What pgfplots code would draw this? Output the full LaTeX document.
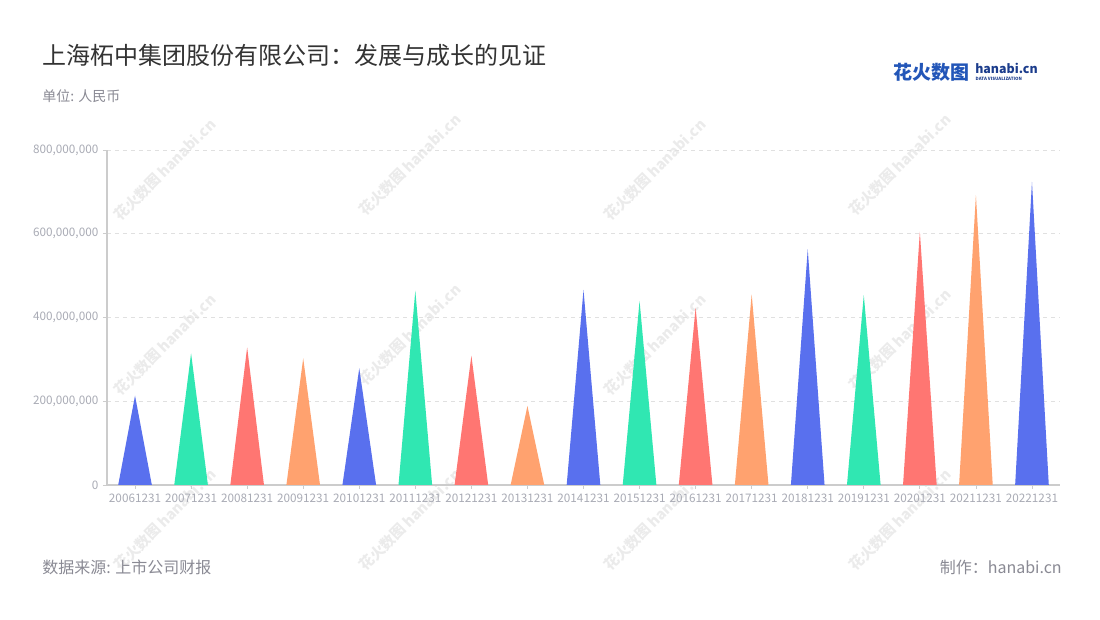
\documentclass[border=0pt]{standalone}
\usepackage{fontspec}
\setmainfont{Noto Sans CJK SC}
\usepackage{pgfplots}
\pgfplotsset{compat=1.18}

\definecolor{cblue}{HTML}{5970EE}
\definecolor{cgreen}{HTML}{30E7B2}
\definecolor{cred}{HTML}{FF7672}
\definecolor{corange}{HTML}{FFA26F}
\definecolor{titlegray}{HTML}{333333}
\definecolor{subgray}{HTML}{8A8A94}
\definecolor{ticklab}{HTML}{A9ABB5}
\definecolor{axgray}{HTML}{CCCCCC}
\definecolor{gridgray}{HTML}{E0E0E0}
\definecolor{logoblue}{HTML}{2356B8}
\definecolor{lognavy}{HTML}{1B3C8C}

% one triangle per year: left foot, tip (x, value), right foot
\newcommand{\tri}[5]{\addplot[fill=#5, draw=none] coordinates {(#1,0) (#2,#3) (#4,0)} -- cycle;}

\begin{document}
\begin{tikzpicture}
  % canvas 1100 x 620 px, 1px = 0.75pt
  \path[fill=white] (0,0) rectangle (825pt,465pt);

  % faint watermarks
  \foreach \wx/\wy in {165/170,410/165,655/170,900/165,165/345,410/335,655/345,900/340,410/520,655/520,900/520,165/520}{
    \node[rotate=45, opacity=0.08, text=black, font=\fontsize{11pt}{13pt}\selectfont\bfseries]
      at (\wx*0.75pt, 465pt-\wy*0.75pt) {花火数图 hanabi.cn};
  }

  \begin{axis}[
    at={(80.25pt,101.25pt)},
    anchor=south west,
    scale only axis,
    width=714.75pt,
    height=251.25pt,
    xmin=-0.5, xmax=16.5,
    ymin=0, ymax=800000000,
    axis lines=left,
    axis line style={-, axgray, line width=0.9pt},
    xtick={0,...,16},
    xticklabels={20061231,20071231,20081231,20091231,20101231,20111231,20121231,20131231,20141231,20151231,20161231,20171231,20181231,20191231,20201231,20211231,20221231},
    ytick={0,200000000,400000000,600000000,800000000},
    scaled y ticks=false,
    yticklabel style={/pgf/number format/fixed, /pgf/number format/1000 sep={,}, /pgf/number format/assume math mode=true},
    tick align=outside,
    major tick length=3pt,
    tick style={axgray, line width=0.6pt},
    ymajorgrids,
    grid style={dashed, gridgray, line width=0.6pt},
    ticklabel style={font=\fontsize{8.8pt}{10pt}\selectfont, text=ticklab},
    clip=false,
  ]
    \tri{-0.3}{0}{213300000}{0.3}{cblue}
    \tri{0.7}{1}{314400000}{1.3}{cgreen}
    \tri{1.7}{2}{328800000}{2.3}{cred}
    \tri{2.7}{3}{302500000}{3.3}{corange}
    \tri{3.7}{4}{278700000}{4.3}{cblue}
    \tri{4.7}{5}{464000000}{5.3}{cgreen}
    \tri{5.7}{6}{308800000}{6.3}{cred}
    \tri{6.7}{7}{188700000}{7.3}{corange}
    \tri{7.7}{8}{465700000}{8.3}{cblue}
    \tri{8.7}{9}{439400000}{9.3}{cgreen}
    \tri{9.7}{10}{423500000}{10.3}{cred}
    \tri{10.7}{11}{455400000}{11.3}{corange}
    \tri{11.7}{12}{562900000}{12.3}{cblue}
    \tri{12.7}{13}{453700000}{13.3}{cgreen}
    \tri{13.7}{14}{605000000}{14.3}{cred}
    \tri{14.7}{15}{692500000}{15.3}{corange}
    \tri{15.7}{16}{724000000}{16.3}{cblue}
  \end{axis}

  % titles
  \node[anchor=west, text=titlegray, font=\fontsize{18pt}{20pt}\selectfont, inner sep=0pt]
    at (31.5pt,423.75pt) {上海柘中集团股份有限公司：发展与成长的见证};
  \node[anchor=west, text=subgray, font=\fontsize{10.5pt}{12pt}\selectfont, inner sep=0pt]
    at (31.5pt,393pt) {单位: 人民币};
  % footer
  \node[anchor=west, text=subgray, font=\fontsize{12pt}{14pt}\selectfont, inner sep=0pt]
    at (31.5pt,39.75pt) {数据来源: 上市公司财报};
  \node[anchor=east, text=subgray, font=\fontsize{12pt}{14pt}\selectfont, inner sep=0pt]
    at (796.5pt,39.75pt) {制作：hanabi.cn};
  % logo
  \node[anchor=west, text=logoblue, font=\fontsize{14.25pt}{16pt}\selectfont\bfseries, inner sep=0pt]
    at (669.75pt,411pt) {花火数图};
  \node[anchor=west, text=lognavy, font=\fontsize{9.3pt}{11pt}\selectfont\bfseries, inner sep=0pt]
    at (731.25pt,413.5pt) {hanabi.cn};
  \node[anchor=west, text=lognavy, font=\fontsize{3.3pt}{4pt}\selectfont\bfseries, inner sep=0pt]
    at (731.6pt,405.5pt) {DATA VISUALIZATION};
\end{tikzpicture}
\end{document}
